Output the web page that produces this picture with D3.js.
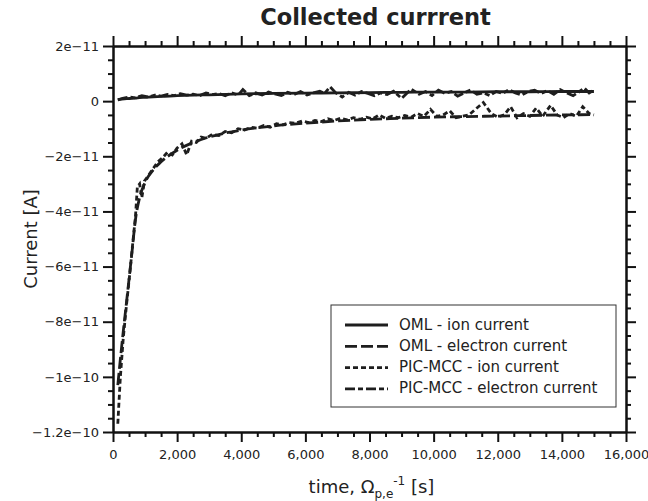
<!DOCTYPE html>
<html>
<head>
<meta charset="utf-8">
<script src="https://cdn.jsdelivr.net/npm/d3@7"></script>
<style>
  body { margin: 0; background: #fff; }
  svg { display: block; }
  text { font-family: "DejaVu Sans", sans-serif; fill: #222; }
</style>
</head>
<body>
<svg id="chart" width="648" height="501"></svg>
<script>
// values in units of 1e-11 A, time in plasma periods
const omlTime = [150, 270, 430, 590, 700, 830, 1000, 1250, 1500, 2000, 2500, 3000, 4000, 5000, 6000, 7000, 8000, 9000, 10000, 11000, 12000, 13000, 14000, 15000];
const omlIon = [0.05, 0.07, 0.09, 0.1, 0.11, 0.13, 0.14, 0.16, 0.17, 0.2, 0.22, 0.23, 0.26, 0.28, 0.29, 0.3, 0.31, 0.32, 0.33, 0.33, 0.34, 0.34, 0.35, 0.35];
const omlElectron = [-10.3, -8.9, -7.2, -5.5, -4.3, -3.5, -2.95, -2.5, -2.2, -1.78, -1.5, -1.3, -1.05, -0.9, -0.8, -0.72, -0.66, -0.62, -0.58, -0.56, -0.54, -0.52, -0.5, -0.49];

const picIonTime = [150, 230, 320, 420, 520, 620, 700, 760, 830, 900, 980, 1100, 1250, 1400, 1550, 1700, 1850, 2000, 2150, 2300, 2450, 2600, 2750, 2900, 3100, 3300, 3500, 3700, 3900, 4100, 4300, 4500, 4700, 4900, 5100, 5300, 5500, 5700, 5900, 6100, 6300, 6500, 6700, 6900, 7100, 7300, 7500, 7700, 7900, 8100, 8300, 8500, 8700, 8900, 9100, 9300, 9500, 9700, 9900, 10100, 10300, 10500, 10700, 10900, 11100, 11300, 11550, 11800, 12000, 12200, 12400, 12600, 12800, 13000, 13200, 13400, 13650, 13850, 14050, 14250, 14450, 14650, 14850, 15000];
const picIon = [-11.7, -10.0, -8.6, -7.4, -6.3, -5.1, -4.2, -3.1, -3.0, -3.5, -2.9, -2.7, -2.45, -2.2, -2.05, -1.85, -1.95, -1.7, -1.55, -1.95, -1.45, -1.5, -1.3, -1.35, -1.2, -1.25, -1.1, -1.15, -1.0, -1.05, -0.95, -0.98, -0.88, -0.95, -0.82, -0.86, -0.78, -0.8, -0.72, -0.78, -0.7, -0.74, -0.64, -0.7, -0.62, -0.68, -0.6, -0.66, -0.58, -0.64, -0.5, -0.62, -0.55, -0.6, -0.52, -0.58, -0.45, -0.55, -0.3, -0.55, -0.5, -0.35, -0.6, -0.55, -0.5, -0.3, -0.05, -0.45, -0.58, -0.5, -0.2, -0.6, -0.45, -0.55, -0.25, -0.55, -0.15, -0.5, -0.6, -0.45, -0.55, -0.2, -0.45, -0.5];

const picElectronTime = [150, 300, 500, 700, 900, 1100, 1300, 1500, 1700, 1900, 2100, 2300, 2500, 2700, 2900, 3100, 3300, 3500, 3700, 3900, 4050, 4250, 4450, 4650, 4850, 5050, 5250, 5450, 5650, 5850, 6050, 6250, 6450, 6600, 6770, 6950, 7150, 7350, 7550, 7750, 7950, 8150, 8350, 8550, 8750, 9000, 9300, 9550, 9750, 9950, 10150, 10350, 10550, 10750, 10950, 11150, 11350, 11550, 11750, 11950, 12150, 12350, 12550, 12750, 12950, 13150, 13350, 13550, 13750, 13950, 14150, 14350, 14550, 14700, 14850, 15000];
const picElectron = [0.05, 0.1, 0.15, 0.12, 0.2, 0.15, 0.22, 0.18, 0.24, 0.2, 0.27, 0.22, 0.25, 0.2, 0.3, 0.24, 0.28, 0.2, 0.3, 0.22, 0.42, 0.2, 0.3, 0.22, 0.33, 0.26, 0.2, 0.32, 0.24, 0.35, 0.22, 0.3, 0.36, 0.28, 0.52, 0.3, 0.15, 0.32, 0.22, 0.35, 0.28, 0.2, 0.3, 0.24, 0.36, 0.1, 0.44, 0.25, 0.35, 0.2, 0.4, 0.28, 0.35, 0.18, 0.3, 0.4, 0.25, 0.3, 0.2, 0.35, 0.28, 0.42, 0.3, 0.22, 0.35, 0.4, 0.28, 0.38, 0.25, 0.42, 0.3, 0.2, 0.35, 0.48, 0.3, 0.4];

const xTicks = [0, 2000, 4000, 6000, 8000, 10000, 12000, 14000, 16000];
const yTicks = [2, 0, -2, -4, -6, -8, -10, -12];
const yTickLabels = ["2e\u221211", "0", "\u22122e\u221211", "\u22124e\u221211", "\u22126e\u221211", "\u22128e\u221211", "\u22121e\u221210", "\u22121.2e\u221210"];
const seriesNames = ["OML - ion current", "OML - electron current", "PIC-MCC - ion current", "PIC-MCC - electron current"];

const svg = d3.select("#chart");
const plotLeft = 113, plotRight = 626, plotTop = 46, plotBottom = 432;

const x = d3.scaleLinear().domain([0, 16000]).range([plotLeft, plotRight]);
const y = d3.scaleLinear().domain([2, -12]).range([plotTop, plotBottom]);

const ink = "#1e1e1e";

// minor ticks first, then major
const xMinor = d3.range(0, 16001, 500).filter(d => d % 2000 !== 0);
const yMinor = d3.range(-12, 2.01, 0.5).filter(d => Math.abs(d % 2) > 0.01);

function styleAxis(g) {
    g.selectAll("path, line").attr("stroke", "#111").attr("stroke-width", 2);
    g.selectAll("text").attr("font-size", 13).attr("fill", ink)
        .attr("font-family", "'DejaVu Sans Condensed', 'DejaVu Sans', sans-serif");
}

// bottom
svg.append("g").attr("transform", `translate(0,${plotBottom})`)
    .call(d3.axisBottom(x).tickValues(xMinor).tickSize(5).tickSizeOuter(0).tickFormat(""))
    .call(styleAxis);
svg.append("g").attr("transform", `translate(0,${plotBottom})`)
    .call(d3.axisBottom(x).tickValues(xTicks).tickSize(10).tickSizeOuter(0).tickPadding(8).tickFormat(d3.format(",")))
    .call(styleAxis);
// top
svg.append("g").attr("transform", `translate(0,${plotTop})`)
    .call(d3.axisTop(x).tickValues(xMinor).tickSize(5).tickSizeOuter(0).tickFormat(""))
    .call(styleAxis);
svg.append("g").attr("transform", `translate(0,${plotTop})`)
    .call(d3.axisTop(x).tickValues(xTicks).tickSize(10).tickSizeOuter(0).tickFormat(""))
    .call(styleAxis);
// left
svg.append("g").attr("transform", `translate(${plotLeft},0)`)
    .call(d3.axisLeft(y).tickValues(yMinor).tickSize(5).tickSizeOuter(0).tickFormat(""))
    .call(styleAxis);
svg.append("g").attr("transform", `translate(${plotLeft},0)`)
    .call(d3.axisLeft(y).tickValues(yTicks).tickSize(10).tickSizeOuter(0).tickPadding(4)
        .tickFormat((d, i) => yTickLabels[i]))
    .call(styleAxis);
// right
svg.append("g").attr("transform", `translate(${plotRight},0)`)
    .call(d3.axisRight(y).tickValues(yMinor).tickSize(5).tickSizeOuter(0).tickFormat(""))
    .call(styleAxis);
svg.append("g").attr("transform", `translate(${plotRight},0)`)
    .call(d3.axisRight(y).tickValues(yTicks).tickSize(10).tickSizeOuter(0).tickFormat(""))
    .call(styleAxis);

// curves
const dashes = [null, "12,4", "5,3", "10,3,5,3"];
const smooth = d3.line().curve(d3.curveMonotoneX);
const plain = d3.line();

const curves = [
    {t: omlTime, v: omlIon, dash: dashes[0], gen: smooth},
    {t: omlTime, v: omlElectron, dash: dashes[1], gen: smooth},
    {t: picIonTime, v: picIon, dash: dashes[2], gen: plain},
    {t: picElectronTime, v: picElectron, dash: dashes[3], gen: plain}
];

curves.forEach(c => {
    const pts = c.t.map((t, i) => [x(t), y(c.v[i])]);
    svg.append("path")
        .attr("d", c.gen(pts))
        .attr("fill", "none")
        .attr("stroke", ink)
        .attr("stroke-width", 2.8)
        .attr("stroke-dasharray", c.dash);
});

// title
svg.append("text")
    .attr("x", (plotLeft + plotRight) / 2 + 6)
    .attr("y", 25)
    .attr("text-anchor", "middle")
    .attr("font-size", 22.5)
    .attr("font-weight", "bold")
    .text("Collected currrent");

// y label
svg.append("text")
    .attr("transform", `translate(37,${(plotTop + plotBottom) / 2}) rotate(-90)`)
    .attr("text-anchor", "middle")
    .attr("font-size", 18)
    .text("Current [A]");

// x label
const xl = svg.append("text")
    .attr("x", (plotLeft + plotRight) / 2 + 2)
    .attr("y", 493)
    .attr("text-anchor", "middle")
    .attr("font-size", 18);
xl.append("tspan").text("time, \u03A9");
xl.append("tspan").attr("font-size", 12).attr("dy", 5).text("p,e");
xl.append("tspan").attr("font-size", 12).attr("dy", -13).text("-1");
xl.append("tspan").attr("dy", 8).text(" [s]");

// legend
const legend = svg.append("g").attr("class", "legend-wrapper")
    .attr("transform", "translate(331,305)");
legend.append("rect")
    .attr("width", 285)
    .attr("height", 102)
    .attr("fill", "#fff")
    .attr("stroke", "#333")
    .attr("stroke-width", 1);
seriesNames.forEach((name, i) => {
    const ly = 20 + i * 21.3;
    legend.append("line")
        .attr("x1", 14).attr("x2", 57)
        .attr("y1", ly).attr("y2", ly)
        .attr("stroke", ink)
        .attr("stroke-width", 2.8)
        .attr("stroke-dasharray", dashes[i]);
    legend.append("text")
        .attr("x", 68)
        .attr("y", ly)
        .attr("dominant-baseline", "middle")
        .attr("font-size", 15)
        .text(name);
});
</script>
</body>
</html>
